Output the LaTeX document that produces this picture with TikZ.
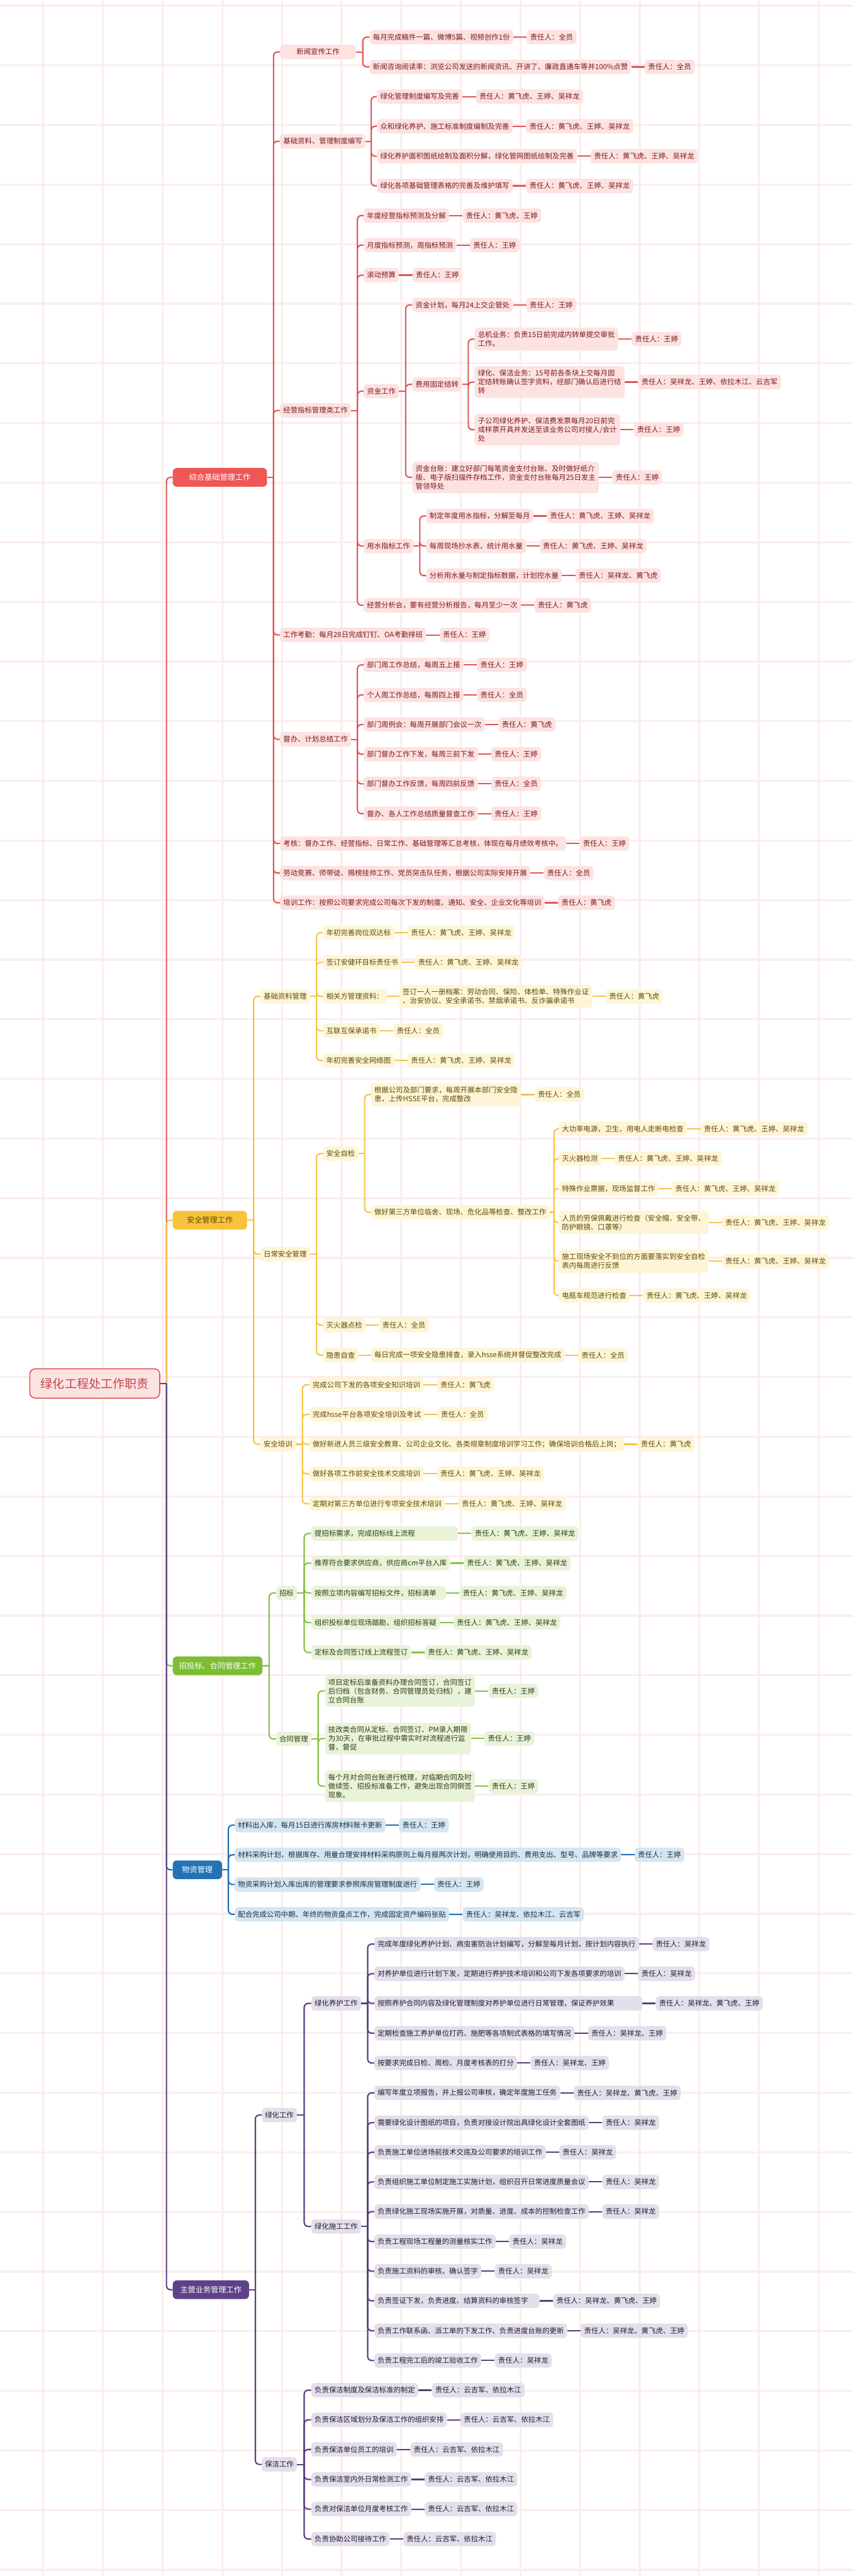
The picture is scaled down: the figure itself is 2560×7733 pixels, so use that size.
\documentclass[tikz,border=0pt]{standalone}
\usepackage{fontspec}
\newfontfamily\cjk{Noto Sans CJK SC}
\usetikzlibrary{positioning,calc}
\definecolor{rL}{HTML}{E05555}\definecolor{rF}{HTML}{FDE2E2}\definecolor{rT}{HTML}{7B1A1A}\definecolor{rM}{HTML}{F05656}
\definecolor{yL}{HTML}{F5C445}\definecolor{yF}{HTML}{FEF5D6}\definecolor{yT}{HTML}{5E4A08}\definecolor{yM}{HTML}{F9C23C}
\definecolor{gL}{HTML}{86C13D}\definecolor{gF}{HTML}{E9F3DA}\definecolor{gT}{HTML}{2E3D14}\definecolor{gM}{HTML}{7DBE32}
\definecolor{bL}{HTML}{1F6EB0}\definecolor{bF}{HTML}{D5E6F2}\definecolor{bT}{HTML}{1A2B3C}\definecolor{bM}{HTML}{2372B5}
\definecolor{pL}{HTML}{5A3E80}\definecolor{pF}{HTML}{E3DFEB}\definecolor{pT}{HTML}{231B30}\definecolor{pM}{HTML}{5E4288}
\definecolor{gridc}{HTML}{FCEDED}
\newcommand{\mmfont}{\cjk\fontsize{10.75pt}{13.2pt}\selectfont}
\newcommand{\tk}[7][]{%
  \node[#2,#1] (#3) at (#4,#5) {#6};
  \node[#2, right=20pt of #3] (#3o) {责任人：#7};
  \draw[#2line] (#3.east) -- (#3o.west);}
\newcommand{\mmbr}[3]{%
  \draw[#1line, rounded corners=6pt] ($(#2.east)!0.5!(#2.east -| #3.west)$) |- (#3.west);
  \draw[#1line] (#2.east) -- ($(#2.east)!0.5!(#2.east -| #3.west)$);}
\begin{document}
\begin{tikzpicture}[x=0.5pt,y=-0.5pt,
  box/.style={rounded corners=5pt, inner xsep=5pt, inner ysep=5.5pt, minimum height=21.5pt, anchor=west, align=left, font=\mmfont},
  rn/.style={box, fill=rF, text=rT}, rnline/.style={draw=rL, line width=2pt},
  yn/.style={box, fill=yF, text=yT}, ynline/.style={draw=yL, line width=2pt},
  gn/.style={box, fill=gF, text=gT}, gnline/.style={draw=gL, line width=2pt},
  bn/.style={box, fill=bF, text=bT}, bnline/.style={draw=bL, line width=2pt},
  pn/.style={box, fill=pF, text=pT}, pnline/.style={draw=pL, line width=2pt},
  lone/.style={rounded corners=6pt, inner xsep=8pt, minimum height=28pt, anchor=west, font=\cjk\fontsize{11.5pt}{14pt}\selectfont, text=white},
  rootn/.style={rounded corners=8pt, inner xsep=14pt, minimum height=44pt, minimum width=195pt, font=\cjk\fontsize{18pt}{21pt}\selectfont, fill=rF, draw=rL, line width=1.5pt, text=rL!85!black}
]
\useasboundingbox (0,0) rectangle (2560,7733);
\fill[white] (0,0) rectangle (2560,7733);
\foreach \gx in {130,309,...,2560} \draw[gridc, line width=3pt] (\gx,0) -- (\gx,7733);
\foreach \gy in {17,196,...,7733} \draw[gridc, line width=3pt] (0,\gy) -- (2560,\gy);

% root and level 1
\node[rootn] (R) at (284.5,4153) {绿化工程处工作职责};
\node[lone, fill=rM, minimum width=141.5pt] (A) at (518,1433) {综合基础管理工作};
\node[lone, fill=yM, text=yT, minimum width=111.5pt] (B) at (518,3663) {安全管理工作};
\node[lone, fill=gM, minimum width=134.5pt] (C) at (518,5000.6) {招投标、合同管理工作};
\node[lone, fill=bM, minimum width=74pt] (D) at (518,5613) {物资管理};
\node[lone, fill=pM, minimum width=114.5pt] (E) at (518,6873.5) {主营业务管理工作};
\mmbr{rn}{R}{A}\mmbr{yn}{R}{B}\mmbr{gn}{R}{C}\mmbr{bn}{R}{D}\mmbr{pn}{R}{E}

% ===== A
\node[rn, minimum width=114pt, align=center] (a1) at (840,156) {新闻宣传工作};
\tk{rn}{a1a}{1109}{111.5}{每月完成稿件一篇、微博5篇、视频创作1份}{全员}
\tk{rn}{a1b}{1109}{201}{新闻咨询阅读率：浏览公司发送的新闻资讯、开讲了、廉政直通车等并100\%点赞}{全员}
\mmbr{rn}{a1}{a1a}\mmbr{rn}{a1}{a1b}
\node[rn] (a2) at (840,424) {基础资料、管理制度编写};
\tk{rn}{a2a}{1131}{290}{绿化管理制度编写及完善}{黄飞虎、王婷、吴祥龙}
\tk{rn}{a2b}{1131}{379}{众和绿化养护、施工标准制度编制及完善}{黄飞虎、王婷、吴祥龙}
\tk{rn}{a2c}{1131}{469}{绿化养护面积图纸绘制及面积分解，绿化管网图纸绘制及完善}{黄飞虎、王婷、吴祥龙}
\tk{rn}{a2d}{1131}{558}{绿化各项基础管理表格的完善及维护填写}{黄飞虎、王婷、吴祥龙}
\mmbr{rn}{a2}{a2a}\mmbr{rn}{a2}{a2b}\mmbr{rn}{a2}{a2c}\mmbr{rn}{a2}{a2d}
\node[rn] (a3) at (840,1232) {经营指标管理类工作};
\tk{rn}{a3a}{1091}{647}{年度经营指标预测及分解}{黄飞虎、王婷}
\tk{rn}{a3b}{1091}{736}{月度指标预测，周指标预测}{王婷}
\tk{rn}{a3c}{1091}{826}{滚动预算}{王婷}
\node[rn] (a3d) at (1091,1174.5) {资金工作};
\tk{rn}{a3d1}{1237}{915.5}{资金计划，每月24上交企管处}{王婷}
\node[rn] (a3d2) at (1237,1154) {费用固定结转};
\tk{rn}{x1}{1424}{1018}{总机业务：负责15日前完成内转单提交审批\\工作。}{王婷}
\tk{rn}{x2}{1424}{1147}{绿化、保洁业务：15号前各条块上交每月固\\定结转账确认签字资料，经部门确认后进行结\\转}{吴祥龙、王婷、依拉木江、云吉军}
\tk{rn}{x3}{1424}{1290}{子公司绿化养护、保洁费发票每月20日前完\\成样票开具并发送至该业务公司对接人/会计\\处}{王婷}
\mmbr{rn}{a3d2}{x1}\mmbr{rn}{a3d2}{x2}\mmbr{rn}{a3d2}{x3}
\tk{rn}{a3d3}{1237}{1433}{资金台账：建立好部门每笔资金支付台账、及时做好纸介\\版、电子版扫描件存档工作，资金支付台账每月25日发主\\管领导处}{王婷}
\mmbr{rn}{a3d}{a3d1}\mmbr{rn}{a3d}{a3d2}\mmbr{rn}{a3d}{a3d3}
\node[rn] (a3e) at (1091,1639) {用水指标工作};
\tk{rn}{a3e1}{1279}{1549}{制定年度用水指标，分解至每月}{黄飞虎、王婷、吴祥龙}
\tk{rn}{a3e2}{1279}{1639}{每周现场抄水表，统计用水量}{黄飞虎、王婷、吴祥龙}
\tk{rn}{a3e3}{1279}{1728}{分析用水量与制定指标数据，计划控水量}{吴祥龙、黄飞虎}
\mmbr{rn}{a3e}{a3e1}\mmbr{rn}{a3e}{a3e2}\mmbr{rn}{a3e}{a3e3}
\tk{rn}{a3f}{1091}{1817}{经营分析会，要有经营分析报告，每月至少一次}{黄飞虎}
\mmbr{rn}{a3}{a3a}\mmbr{rn}{a3}{a3b}\mmbr{rn}{a3}{a3c}\mmbr{rn}{a3}{a3d}\mmbr{rn}{a3}{a3e}\mmbr{rn}{a3}{a3f}
\tk{rn}{a4}{840}{1906}{工作考勤：每月28日完成钉钉、OA考勤排班}{王婷}
\node[rn] (a5) at (840,2219.5) {督办、计划总结工作};
\tk{rn}{a5a}{1091}{1996}{部门周工作总结，每周五上报}{王婷}
\tk{rn}{a5b}{1091}{2086}{个人周工作总结，每周四上报}{全员}
\tk{rn}{a5c}{1091}{2175}{部门周例会：每周开展部门会议一次}{黄飞虎}
\tk{rn}{a5d}{1091}{2264}{部门督办工作下发，每周三前下发}{王婷}
\tk{rn}{a5e}{1091}{2353}{部门督办工作反馈，每周四前反馈}{全员}
\tk{rn}{a5f}{1091}{2442.5}{督办、各人工作总结质量督查工作}{王婷}
\mmbr{rn}{a5}{a5a}\mmbr{rn}{a5}{a5b}\mmbr{rn}{a5}{a5c}\mmbr{rn}{a5}{a5d}\mmbr{rn}{a5}{a5e}\mmbr{rn}{a5}{a5f}
\tk{rn}{a6}{840}{2532}{考核：督办工作、经营指标、日常工作、基础管理等汇总考核，体现在每月绩效考核中。}{王婷}
\tk{rn}{a7}{840}{2621}{劳动竞赛、师带徒、揭榜挂帅工作、党员突击队任务，根据公司实际安排开展}{全员}
\tk{rn}{a8}{840}{2710}{培训工作：按照公司要求完成公司每次下发的制度、通知、安全、企业文化等培训}{黄飞虎}
\mmbr{rn}{A}{a1}\mmbr{rn}{A}{a2}\mmbr{rn}{A}{a3}\mmbr{rn}{A}{a4}\mmbr{rn}{A}{a5}\mmbr{rn}{A}{a6}\mmbr{rn}{A}{a7}\mmbr{rn}{A}{a8}

% ===== B
\node[yn] (b1) at (781,2991) {基础资料管理};
\tk{yn}{b1a}{969}{2799.5}{年初完善岗位双达标}{黄飞虎、王婷、吴祥龙}
\tk{yn}{b1b}{969}{2889}{签订安健环目标责任书}{黄飞虎、王婷、吴祥龙}
\node[yn] (b1c) at (969,2991) {相关方管理资料：};
\tk{yn}{b1cx}{1198}{2991}{签订一人一册档案：劳动合同、保险、体检单、特殊作业证\\、治安协议、安全承诺书、禁烟承诺书、反诈骗承诺书}{黄飞虎}
\draw[ynline] (b1c.east) -- (b1cx.west);
\tk{yn}{b1d}{969}{3094}{互联互保承诺书}{全员}
\tk{yn}{b1e}{969}{3183.5}{年初完善安全网络图}{黄飞虎、王婷、吴祥龙}
\mmbr{yn}{b1}{b1a}\mmbr{yn}{b1}{b1b}\mmbr{yn}{b1}{b1c}\mmbr{yn}{b1}{b1d}\mmbr{yn}{b1}{b1e}
\node[yn] (b2) at (781,3765) {日常安全管理};
\node[yn] (b2a) at (969,3463) {安全自检};
\tk{yn}{b2a1}{1113}{3286}{根据公司及部门要求，每周开展本部门安全隐\\患，上传HSSE平台，完成整改}{全员}
\node[yn] (b2a2) at (1113,3639) {做好第三方单位临舍、现场、危化品等检查、整改工作};
\tk{yn}{b2a2a}{1676}{3389}{大功率电源，卫生、用电人走断电检查}{黄飞虎、王婷、吴祥龙}
\tk{yn}{b2a2b}{1676}{3478}{灭火器检测}{黄飞虎、王婷、吴祥龙}
\tk{yn}{b2a2c}{1676}{3568}{特殊作业票据，现场监督工作}{黄飞虎、王婷、吴祥龙}
\tk{yn}{b2a2d}{1676}{3670}{人员的劳保佩戴进行检查（安全帽、安全带、\\防护眼镜、口罩等）}{黄飞虎、王婷、吴祥龙}
\tk{yn}{b2a2e}{1676}{3786}{施工现场安全不到位的方面要落实到安全自检\\表内每周进行反馈}{黄飞虎、王婷、吴祥龙}
\tk{yn}{b2a2f}{1676}{3889}{电瓶车规范进行检查}{黄飞虎、王婷、吴祥龙}
\mmbr{yn}{b2a2}{b2a2a}\mmbr{yn}{b2a2}{b2a2b}\mmbr{yn}{b2a2}{b2a2c}\mmbr{yn}{b2a2}{b2a2d}\mmbr{yn}{b2a2}{b2a2e}\mmbr{yn}{b2a2}{b2a2f}
\mmbr{yn}{b2a}{b2a1}\mmbr{yn}{b2a}{b2a2}
\tk{yn}{b2b}{969}{3978}{灭火器点检}{全员}
\node[yn] (b2c) at (969,4068) {隐患自查};
\tk{yn}{b2cx}{1113}{4068}{每日完成一项安全隐患排查，录入hsse系统并督促整改完成}{全员}
\draw[ynline] (b2c.east) -- (b2cx.west);
\mmbr{yn}{b2}{b2a}\mmbr{yn}{b2}{b2b}\mmbr{yn}{b2}{b2c}
\node[yn] (b3) at (781,4335.6) {安全培训};
\tk{yn}{b3a}{928}{4157}{完成公司下发的各项安全知识培训}{黄飞虎}
\tk{yn}{b3b}{928}{4246}{完成hsse平台各项安全培训及考试}{全员}
\tk{yn}{b3c}{928}{4335.6}{做好新进人员三级安全教育、公司企业文化、各类规章制度培训学习工作；确保培训合格后上岗；}{黄飞虎}
\tk{yn}{b3d}{928}{4424}{做好各项工作前安全技术交底培训}{黄飞虎、王婷、吴祥龙}
\tk{yn}{b3e}{928}{4514}{定期对第三方单位进行专项安全技术培训}{黄飞虎、王婷、吴祥龙}
\mmbr{yn}{b3}{b3a}\mmbr{yn}{b3}{b3b}\mmbr{yn}{b3}{b3c}\mmbr{yn}{b3}{b3d}\mmbr{yn}{b3}{b3e}
\mmbr{yn}{B}{b1}\mmbr{yn}{B}{b2}\mmbr{yn}{B}{b3}

% ===== C
\node[gn] (c1) at (828,4782) {招标};
\tk[text width=210pt]{gn}{c1a}{934}{4603.5}{提招标需求，完成招标线上流程}{黄飞虎、王婷、吴祥龙}
\tk{gn}{c1b}{934}{4692.5}{推荐符合要求供应商，供应商cm平台入库}{黄飞虎、王婷、吴祥龙}
\tk[text width=192pt]{gn}{c1c}{934}{4782}{按照立项内容编写招标文件，招标清单}{黄飞虎、王婷、吴祥龙}
\tk{gn}{c1d}{934}{4871}{组织投标单位现场踏勘，组织招标答疑}{黄飞虎、王婷、吴祥龙}
\tk{gn}{c1e}{934}{4960.5}{定标及合同签订线上流程签订}{黄飞虎、王婷、吴祥龙}
\mmbr{gn}{c1}{c1a}\mmbr{gn}{c1}{c1b}\mmbr{gn}{c1}{c1c}\mmbr{gn}{c1}{c1d}\mmbr{gn}{c1}{c1e}
\node[gn] (c2) at (828,5220) {合同管理};
\tk{gn}{c2a}{975}{5076}{项目定标后准备资料办理合同签订，合同签订\\后归档（包含财务、合同管理员处归档），建\\立合同台账}{王婷}
\tk{gn}{c2b}{975}{5219}{技改类合同从定标、合同签订、PM录入期限\\为30天，在审批过程中需实时对流程进行监\\督、督促}{王婷}
\tk{gn}{c2c}{975}{5362}{每个月对合同台账进行梳理，对临期合同及时\\做续签、招投标准备工作，避免出现合同倒签\\现象。}{王婷}
\mmbr{gn}{c2}{c2a}\mmbr{gn}{c2}{c2b}\mmbr{gn}{c2}{c2c}
\mmbr{gn}{C}{c1}\mmbr{gn}{C}{c2}

% ===== D
\tk{bn}{d1}{704}{5479}{材料出入库，每月15日进行库房材料账卡更新}{王婷}
\tk{bn}{d2}{704}{5568}{材料采购计划，根据库存、用量合理安排材料采购原则上每月报两次计划，明确使用目的、费用支出、型号、品牌等要求}{王婷}
\tk{bn}{d3}{704}{5657}{物资采购计划入库出库的管理要求参照库房管理制度进行}{王婷}
\tk{bn}{d4}{704}{5746.5}{配合完成公司中期、年终的物资盘点工作，完成固定资产编码张贴}{吴祥龙、依拉木江、云吉军}
\mmbr{bn}{D}{d1}\mmbr{bn}{D}{d2}\mmbr{bn}{D}{d3}\mmbr{bn}{D}{d4}

% ===== E
\node[pn] (e1) at (785,6349) {绿化工作};
\node[pn] (e1a) at (934,6014) {绿化养护工作};
\tk{pn}{e1a1}{1123}{5836}{完成年度绿化养护计划、病虫害防治计划编写，分解至每月计划，按计划内容执行}{吴祥龙}
\tk{pn}{e1a2}{1123}{5925}{对养护单位进行计划下发，定期进行养护技术培训和公司下发各项要求的培训}{吴祥龙}
\tk[text width=392pt]{pn}{e1a3}{1123}{6014}{按照养护合同内容及绿化管理制度对养护单位进行日常管理，保证养护效果}{吴祥龙、黄飞虎、王婷}
\tk{pn}{e1a4}{1123}{6103.5}{定期检查施工养护单位打药、施肥等各项制式表格的填写情况}{吴祥龙、王婷}
\tk{pn}{e1a5}{1123}{6193}{按要求完成日检、周检、月度考核表的打分}{吴祥龙、王婷}
\mmbr{pn}{e1a}{e1a1}\mmbr{pn}{e1a}{e1a2}\mmbr{pn}{e1a}{e1a3}\mmbr{pn}{e1a}{e1a4}\mmbr{pn}{e1a}{e1a5}
\node[pn] (e1b) at (934,6683.5) {绿化施工工作};
\tk{pn}{e1b1}{1123}{6282.5}{编写年度立项报告，并上报公司审核，确定年度施工任务}{吴祥龙、黄飞虎、王婷}
\tk{pn}{e1b2}{1123}{6372}{需要绿化设计图纸的项目，负责对接设计院出具绿化设计全套图纸}{吴祥龙}
\tk{pn}{e1b3}{1123}{6461}{负责施工单位进场前技术交底及公司要求的培训工作}{吴祥龙}
\tk{pn}{e1b4}{1123}{6550}{负责组织施工单位制定施工实施计划，组织召开日常进度质量会议}{吴祥龙}
\tk{pn}{e1b5}{1123}{6639}{负责绿化施工现场实施开展，对质量、进度、成本的控制检查工作}{吴祥龙}
\tk{pn}{e1b6}{1123}{6729}{负责工程现场工程量的测量核实工作}{吴祥龙}
\tk{pn}{e1b7}{1123}{6818}{负责施工资料的审核、确认签字}{吴祥龙}
\tk[text width=238pt]{pn}{e1b8}{1123}{6907}{负责签证下发，负责进度、结算资料的审核签字}{吴祥龙、黄飞虎、王婷}
\tk{pn}{e1b9}{1123}{6996.6}{负责工作联系函、派工单的下发工作、负责进度台账的更新}{吴祥龙、黄飞虎、王婷}
\tk{pn}{e1b10}{1123}{7086}{负责工程完工后的竣工验收工作}{吴祥龙}
\mmbr{pn}{e1b}{e1b1}\mmbr{pn}{e1b}{e1b2}\mmbr{pn}{e1b}{e1b3}\mmbr{pn}{e1b}{e1b4}\mmbr{pn}{e1b}{e1b5}
\mmbr{pn}{e1b}{e1b6}\mmbr{pn}{e1b}{e1b7}\mmbr{pn}{e1b}{e1b8}\mmbr{pn}{e1b}{e1b9}\mmbr{pn}{e1b}{e1b10}
\mmbr{pn}{e1}{e1a}\mmbr{pn}{e1}{e1b}
\node[pn] (e2) at (785,7398) {保洁工作};
\tk{pn}{e2a}{934}{7175}{负责保洁制度及保洁标准的制定}{云吉军、依拉木江}
\tk{pn}{e2b}{934}{7264}{负责保洁区域划分及保洁工作的组织安排}{云吉军、依拉木江}
\tk{pn}{e2c}{934}{7353}{负责保洁单位员工的培训}{云吉军、依拉木江}
\tk{pn}{e2d}{934}{7443}{负责保洁室内外日常检测工作}{云吉军、依拉木江}
\tk{pn}{e2e}{934}{7532}{负责对保洁单位月度考核工作}{云吉军、依拉木江}
\tk{pn}{e2f}{934}{7622}{负责协助公司接待工作}{云吉军、依拉木江}
\mmbr{pn}{e2}{e2a}\mmbr{pn}{e2}{e2b}\mmbr{pn}{e2}{e2c}\mmbr{pn}{e2}{e2d}\mmbr{pn}{e2}{e2e}\mmbr{pn}{e2}{e2f}
\mmbr{pn}{E}{e1}\mmbr{pn}{E}{e2}
\end{tikzpicture}
\end{document}
